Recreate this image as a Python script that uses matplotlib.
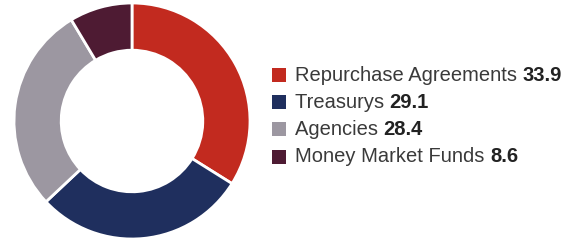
import matplotlib.pyplot as plt
from matplotlib.patches import Rectangle

labels = ['Repurchase Agreements', 'Treasurys', 'Agencies', 'Money Market Funds']
values = [33.9, 29.1, 28.4, 8.6]
colors = ['#c22a1f', '#1f2f5e', '#9c97a1', '#4e1b33']

fig = plt.figure(figsize=(5.68, 2.43), dpi=100)
W, H = 568, 243

# donut
cx, cy, r = 132, 121, 118
ax = fig.add_axes([(cx - r) / W, 1 - (cy + r) / H, 2 * r / W, 2 * r / H])
ax.pie(values, colors=colors, startangle=90, counterclock=False,
       wedgeprops=dict(width=0.4, edgecolor='white', linewidth=2))
ax.set_aspect('equal')
ax.set_xlim(-1, 1)
ax.set_ylim(-1, 1)

# legend
rows_y = [75, 102, 129, 157]
for lab, val, col, y in zip(labels, values, colors, rows_y):
    fig.patches.append(Rectangle((272 / W, 1 - (y + 7) / H), 14 / W, 14 / H,
                                 transform=fig.transFigure, facecolor=col,
                                 edgecolor='none'))
    t = fig.text(295 / W, 1 - y / H, lab + ' ', fontsize=14.5, color='#3a3a3a',
                 family='Liberation Sans', va='center', ha='left')
    ax.annotate(f'{val:.1f}', xy=(1, 0.5), xycoords=t, va='center', ha='left',
                fontsize=14.5, fontweight='bold', color='#222222',
                family='Liberation Sans', annotation_clip=False)

fig.savefig('out.png', dpi=100)
